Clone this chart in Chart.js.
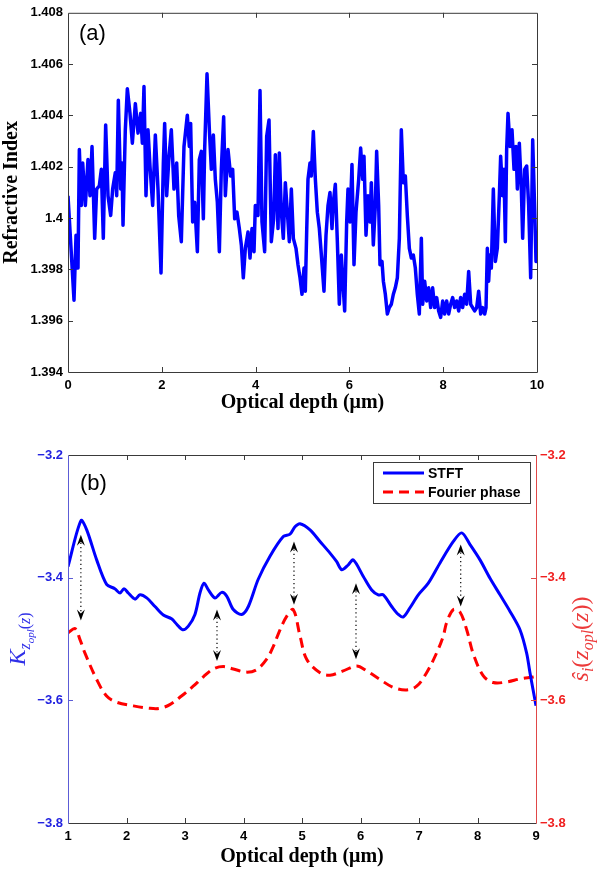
<!DOCTYPE html>
<html>
<head>
<meta charset="utf-8">
<script src="https://cdn.jsdelivr.net/npm/chart.js@4"></script>
<style>
  html, body { margin: 0; padding: 0; background: #fff; }
  canvas { position: absolute; left: 0; }
  #chartA { top: 0; }
  #chartB { top: 435px; }
</style>
</head>
<body>
<canvas id="chartA" width="600" height="435"></canvas>
<canvas id="chartB" width="600" height="435"></canvas>
<script>
// ── DATA: panel (a) ─────────────────────────────
const depthA = [
  0.000, 0.128, 0.171, 0.213, 0.242, 0.284, 0.313, 0.370, 0.426, 0.469, 0.512, 0.569, 0.611, 0.668, 0.711, 0.753,
  0.803, 0.853, 0.910, 0.952, 1.009, 1.038, 1.073, 1.123, 1.151, 1.173, 1.222, 1.265, 1.322, 1.372, 1.436, 1.493,
  1.549, 1.585, 1.620, 1.663, 1.706, 1.748, 1.805, 1.862, 1.919, 1.983, 2.033, 2.061, 2.104, 2.154, 2.203, 2.260,
  2.317, 2.360, 2.416, 2.473, 2.544, 2.587, 2.615, 2.658, 2.701, 2.758, 2.800, 2.843, 2.886, 2.914, 2.964, 3.014,
  3.056, 3.099, 3.141, 3.184, 3.227, 3.269, 3.319, 3.355, 3.412, 3.468, 3.511, 3.554, 3.603, 3.653, 3.696, 3.738,
  3.781, 3.838, 3.881, 3.923, 3.966, 3.994, 4.051, 4.094, 4.136, 4.193, 4.236, 4.286, 4.335, 4.385, 4.421, 4.478,
  4.506, 4.549, 4.591, 4.634, 4.677, 4.719, 4.762, 4.805, 4.861, 4.904, 4.947, 4.989, 5.032, 5.060, 5.089, 5.117,
  5.160, 5.188, 5.231, 5.274, 5.316, 5.359, 5.402, 5.458, 5.501, 5.544, 5.586, 5.629, 5.657, 5.700, 5.743, 5.785,
  5.828, 5.856, 5.899, 5.942, 5.970, 6.013, 6.055, 6.098, 6.141, 6.198, 6.240, 6.283, 6.311, 6.354, 6.397, 6.439,
  6.468, 6.510, 6.553, 6.581, 6.624, 6.652, 6.695, 6.724, 6.766, 6.809, 6.851, 6.894, 6.937, 6.979, 7.022, 7.065,
  7.107, 7.150, 7.193, 7.235, 7.278, 7.321, 7.363, 7.406, 7.448, 7.491, 7.534, 7.562, 7.605, 7.648, 7.690, 7.733,
  7.775, 7.818, 7.861, 7.903, 7.946, 7.989, 8.031, 8.074, 8.117, 8.159, 8.202, 8.244, 8.287, 8.330, 8.372, 8.415,
  8.458, 8.500, 8.543, 8.586, 8.628, 8.671, 8.714, 8.756, 8.799, 8.842, 8.884, 8.913, 8.941, 8.969, 8.998, 9.026,
  9.069, 9.112, 9.154, 9.197, 9.225, 9.268, 9.296, 9.325, 9.353, 9.382, 9.424, 9.467, 9.510, 9.552, 9.581, 9.623,
  9.666, 9.694, 9.737, 9.780, 9.822, 9.865, 9.908, 9.950, 9.979, 10.000
];
const indexA = [
  1.40087, 1.39680, 1.39933, 1.39805, 1.40267, 1.40049, 1.40215, 1.40049, 1.40228, 1.40087, 1.40279, 1.39921, 1.40113, 1.40126, 1.40190, 1.39921,
  1.40363, 1.40087, 1.40010, 1.40113, 1.40177, 1.40087, 1.40459, 1.40113, 1.40215, 1.39972, 1.40344, 1.40504, 1.40408, 1.40292, 1.40446, 1.40331,
  1.40408, 1.40292, 1.40513, 1.40087, 1.40344, 1.40203, 1.40049, 1.40324, 1.40113, 1.39786, 1.40215, 1.40369, 1.40087, 1.40241, 1.40344, 1.40113,
  1.40215, 1.40010, 1.39908, 1.40279, 1.40401, 1.40279, 1.40369, 1.39985, 1.40062, 1.39869, 1.40228, 1.40260, 1.39997, 1.40267, 1.40562, 1.40344,
  1.40190, 1.40324, 1.40151, 1.40062, 1.39869, 1.40190, 1.40395, 1.40087, 1.40267, 1.40164, 1.40190, 1.39997, 1.40023, 1.39959, 1.39895, 1.39767,
  1.39882, 1.39946, 1.39844, 1.39959, 1.39869, 1.40049, 1.40010, 1.40497, 1.39985, 1.39869, 1.40318, 1.40382, 1.39908, 1.39997, 1.40247, 1.39959,
  1.40254, 1.40023, 1.39921, 1.40138, 1.40023, 1.39908, 1.40113, 1.39921, 1.39882, 1.39818, 1.39767, 1.39703, 1.39805, 1.39715, 1.39946, 1.40151,
  1.40215, 1.40164, 1.40337, 1.40151, 1.40023, 1.39959, 1.39856, 1.39715, 1.39933, 1.40049, 1.40100, 1.39959, 1.40062, 1.40132, 1.39908, 1.39664,
  1.39856, 1.39767, 1.39638, 1.39985, 1.40113, 1.39985, 1.40209, 1.39818, 1.40023, 1.40151, 1.40273, 1.40151, 1.40241, 1.39933, 1.40087, 1.39985,
  1.40138, 1.39895, 1.40049, 1.40260, 1.40049, 1.39818, 1.39831, 1.39754, 1.39703, 1.39626, 1.39651, 1.39664, 1.39703, 1.39728, 1.39767, 1.39921,
  1.40344, 1.40138, 1.40164, 1.40010, 1.39882, 1.39844, 1.39856, 1.39805, 1.39703, 1.39626, 1.39921, 1.39664, 1.39754, 1.39677, 1.39728, 1.39651,
  1.39728, 1.39651, 1.39690, 1.39638, 1.39613, 1.39677, 1.39626, 1.39677, 1.39626, 1.39664, 1.39690, 1.39651, 1.39677, 1.39638, 1.39690, 1.39651,
  1.39703, 1.39664, 1.39792, 1.39664, 1.39651, 1.39638, 1.39651, 1.39715, 1.39626, 1.39651, 1.39626, 1.39651, 1.39882, 1.39754, 1.39856, 1.39805,
  1.40113, 1.39831, 1.39882, 1.40087, 1.40241, 1.40087, 1.40190, 1.39908, 1.40267, 1.40408, 1.40279, 1.40344, 1.40190, 1.40279, 1.40113, 1.40292,
  1.40113, 1.39921, 1.40190, 1.40203, 1.40049, 1.39767, 1.40305, 1.40036, 1.39831, 1.39850
];
const xTicksA = [0, 2, 4, 6, 8, 10];
const yTicksA = [1.394, 1.396, 1.398, 1.4, 1.402, 1.404, 1.406, 1.408];
const yLabelsA = ['1.394', '1.396', '1.398', '1.4', '1.402', '1.404', '1.406', '1.408'];

// ── DATA: panel (b) ─────────────────────────────
const depthStft = [
  1.000, 1.222, 1.320, 1.490, 1.660, 1.800, 1.890, 1.957, 2.030, 2.145, 2.230, 2.345, 2.487, 2.630, 2.770, 2.858,
  2.960, 3.057, 3.170, 3.256, 3.325, 3.400, 3.513, 3.627, 3.713, 3.826, 3.969, 4.083, 4.250, 4.453, 4.680, 4.795,
  4.880, 4.966, 5.137, 5.308, 5.479, 5.593, 5.679, 5.792, 5.877, 6.048, 6.191, 6.304, 6.390, 6.533, 6.646, 6.732,
  6.846, 6.988, 7.159, 7.359, 7.587, 7.730, 7.872, 8.043, 8.214, 8.385, 8.556, 8.726, 8.840, 8.897, 9.000
];
const stft = [
  -3.382, -3.307, -3.322, -3.371, -3.411, -3.418, -3.425, -3.418, -3.425, -3.435, -3.428, -3.433, -3.447, -3.461, -3.467, -3.476,
  -3.485, -3.479, -3.460, -3.425, -3.409, -3.420, -3.433, -3.424, -3.430, -3.452, -3.460, -3.447, -3.403, -3.365, -3.333, -3.329,
  -3.317, -3.312, -3.322, -3.341, -3.360, -3.374, -3.387, -3.379, -3.371, -3.398, -3.420, -3.428, -3.428, -3.447, -3.460, -3.464,
  -3.449, -3.428, -3.409, -3.376, -3.341, -3.327, -3.346, -3.371, -3.401, -3.428, -3.455, -3.485, -3.523, -3.555, -3.609
];
const depthFourier = [
  1.000, 1.120, 1.205, 1.290, 1.490, 1.660, 1.830, 2.117, 2.400, 2.570, 2.740, 2.940, 3.140, 3.310, 3.480, 3.655,
  3.826, 4.050, 4.226, 4.396, 4.510, 4.624, 4.738, 4.850, 4.966, 5.080, 5.308, 5.479, 5.706, 5.935, 6.106, 6.333,
  6.560, 6.790, 6.960, 7.130, 7.300, 7.416, 7.470, 7.587, 7.700, 7.815, 7.930, 8.100, 8.270, 8.500, 8.730, 8.950, 9.000
];
const fourier = [
  -3.490, -3.483, -3.501, -3.523, -3.566, -3.593, -3.603, -3.609, -3.613, -3.613, -3.607, -3.593, -3.577, -3.562, -3.549, -3.545,
  -3.549, -3.554, -3.550, -3.533, -3.512, -3.485, -3.463, -3.452, -3.495, -3.533, -3.555, -3.559, -3.552, -3.544, -3.552, -3.566,
  -3.579, -3.583, -3.577, -3.555, -3.523, -3.495, -3.474, -3.452, -3.456, -3.485, -3.525, -3.560, -3.571, -3.570, -3.565, -3.562, -3.561
];
const xTicksB = [1, 2, 3, 4, 5, 6, 7, 8, 9];
const yTicksB = [-3.8, -3.6, -3.4, -3.2];
const yLabelsB = ['\u22123.8', '\u22123.6', '\u22123.4', '\u22123.2'];

// dotted double arrows: depth, upper tip, lower tip
const arrowX   = [1.22, 3.547, 4.863, 5.923, 7.713];
const arrowTop = [-3.330, -3.452, -3.341, -3.409, -3.346];
const arrowBot = [-3.470, -3.536, -3.444, -3.533, -3.447];

// ── STYLE ───────────────────────────────────────
const TICK_FONT  = { family: 'Liberation Sans', size: 13, weight: 'bold' };
const TITLE_FONT = { family: 'Liberation Serif', size: 20, weight: 'bold' };
const FRAME = '#3a3a3a';
const BLUE = '#0000ff';
const RED = '#ff0000';

function toPoints(xs, ys) {
  return xs.map((x, i) => ({ x, y: ys[i] }));
}

function setTicks(values) {
  return scale => { scale.ticks = values.map(v => ({ value: v })); };
}

// inward tick marks, MATLAB style
function tickMarks(ctx, scale, values, side, a, len, color) {
  ctx.strokeStyle = color;
  ctx.lineWidth = 1;
  ctx.beginPath();
  values.forEach(v => {
    const p = Math.round(scale.getPixelForValue(v)) + 0.5;
    if (side === 'bottom') { ctx.moveTo(p, a.bottom); ctx.lineTo(p, a.bottom - len); }
    if (side === 'top')    { ctx.moveTo(p, a.top);    ctx.lineTo(p, a.top + len); }
    if (side === 'left')   { ctx.moveTo(a.left, p);   ctx.lineTo(a.left + len, p); }
    if (side === 'right')  { ctx.moveTo(a.right, p);  ctx.lineTo(a.right - len, p); }
  });
  ctx.stroke();
}

function edge(ctx, x1, y1, x2, y2, color) {
  ctx.strokeStyle = color;
  ctx.lineWidth = 1;
  ctx.beginPath();
  ctx.moveTo(x1, y1);
  ctx.lineTo(x2, y2);
  ctx.stroke();
}

// rotated label with subscript pieces, reading bottom to top
function drawRich(ctx, pieces, x, y, color) {
  ctx.save();
  ctx.translate(x, y);
  ctx.rotate(-Math.PI / 2);
  let total = 0;
  pieces.forEach(p => { ctx.font = p.font; p.w = ctx.measureText(p.t).width; total += p.w; });
  let cx = -total / 2;
  ctx.fillStyle = color;
  ctx.textBaseline = 'alphabetic';
  pieces.forEach(p => { ctx.font = p.font; ctx.fillText(p.t, cx, p.dy); cx += p.w; });
  ctx.restore();
}

function arrowHead(ctx, x, y, s) {
  // s = 1 points up, s = -1 points down
  ctx.beginPath();
  ctx.moveTo(x, y);
  ctx.lineTo(x + 4, y + s * 11);
  ctx.lineTo(x, y + s * 7);
  ctx.lineTo(x - 4, y + s * 11);
  ctx.closePath();
  ctx.fill();
}

// ── PANEL (a) ───────────────────────────────────
const frameA = {
  id: 'frameA',
  afterDatasetsDraw(chart) {
    const { ctx, chartArea: a, scales } = chart;
    ctx.save();
    const l = a.left + 0.5, r = Math.round(a.right) + 0.5, t = a.top + 0.5, b = Math.round(a.bottom) + 0.5;
    edge(ctx, l, t, r, t, FRAME);
    edge(ctx, l, b, r, b, FRAME);
    edge(ctx, l, t, l, b, FRAME);
    edge(ctx, r, t, r, b, FRAME);
    tickMarks(ctx, scales.x, xTicksA.slice(1, -1), 'bottom', a, 5, FRAME);
    tickMarks(ctx, scales.x, xTicksA.slice(1, -1), 'top', a, 5, FRAME);
    tickMarks(ctx, scales.y, yTicksA.slice(1, -1), 'left', a, 5, FRAME);
    tickMarks(ctx, scales.y, yTicksA.slice(1, -1), 'right', a, 5, FRAME);
    ctx.fillStyle = '#000';
    ctx.font = '22px "Liberation Sans"';
    ctx.textBaseline = 'alphabetic';
    ctx.fillText('(a)', 79, 40);
    ctx.restore();
  }
};

new Chart(document.getElementById('chartA'), {
  type: 'line',
  data: {
    datasets: [{
      data: toPoints(depthA, indexA),
      borderColor: BLUE,
      borderWidth: 3.5,
      pointRadius: 0,
      tension: 0,
      borderJoinStyle: 'round',
      fill: false,
    }],
  },
  options: {
    responsive: false,
    animation: false,
    devicePixelRatio: 1,
    layout: { padding: { left: 0, right: 63, top: 8, bottom: 20 } },
    plugins: { legend: { display: false }, tooltip: { enabled: false } },
    scales: {
      x: {
        type: 'linear', min: 0, max: 10,
        afterBuildTicks: setTicks(xTicksA),
        afterFit: s => { s.height = 43; },
        grid: { display: false, drawTicks: false },
        border: { display: false },
        ticks: { color: '#000', font: TICK_FONT, padding: 6, maxRotation: 0, callback: v => String(v) },
        title: { display: true, text: 'Optical depth (\u03bcm)', color: '#000', font: TITLE_FONT, padding: 0 },
      },
      y: {
        type: 'linear', min: 1.394, max: 1.408,
        afterBuildTicks: setTicks(yTicksA),
        afterFit: s => { s.width = 68; },
        grid: { display: false, drawTicks: false },
        border: { display: false },
        ticks: { color: '#000', font: TICK_FONT, padding: 5, callback: (v, i) => yLabelsA[i] },
        title: { display: true, text: 'Refractive Index', color: '#000', font: TITLE_FONT, padding: { top: 0, bottom: 0 } },
      },
    },
  },
  plugins: [frameA],
});

// ── PANEL (b) ───────────────────────────────────
const frameB = {
  id: 'frameB',
  afterDatasetsDraw(chart) {
    const { ctx, chartArea: a, scales } = chart;
    ctx.save();
    const l = a.left + 0.5, r = Math.round(a.right) + 0.5, t = a.top + 0.5, b = Math.round(a.bottom) + 0.5;

    // arrows
    ctx.fillStyle = '#000';
    arrowX.forEach((d, i) => {
      const x = scales.x.getPixelForValue(d);
      const yt = scales.y.getPixelForValue(arrowTop[i]);
      const yb = scales.y.getPixelForValue(arrowBot[i]);
      ctx.strokeStyle = '#000';
      ctx.lineWidth = 1.2;
      ctx.setLineDash([1.2, 3]);
      ctx.beginPath();
      ctx.moveTo(x, yt + 8);
      ctx.lineTo(x, yb - 8);
      ctx.stroke();
      ctx.setLineDash([]);
      arrowHead(ctx, x, yt, 1);
      arrowHead(ctx, x, yb, -1);
    });

    // frame
    edge(ctx, l, t, r, t, FRAME);
    edge(ctx, l, b, r, b, FRAME);
    edge(ctx, l, t, l, b, '#5c5cd6');
    edge(ctx, r, t, r, b, '#e04848');
    tickMarks(ctx, scales.x, xTicksB.slice(1, -1), 'bottom', a, 5, FRAME);
    tickMarks(ctx, scales.x, xTicksB.slice(1, -1), 'top', a, 5, FRAME);
    tickMarks(ctx, scales.y, yTicksB.slice(1, -1), 'left', a, 5, '#5c5cd6');
    tickMarks(ctx, scales.y2, yTicksB.slice(1, -1), 'right', a, 5, '#e04848');

    // panel label
    ctx.fillStyle = '#000';
    ctx.font = '22px "Liberation Sans"';
    ctx.fillText('(b)', 80, 55);

    // legend
    const lx = 373.5, ly = 27.5, lw = 157, lh = 41;
    ctx.fillStyle = '#fff';
    ctx.fillRect(lx, ly, lw, lh);
    ctx.strokeStyle = FRAME;
    ctx.lineWidth = 1;
    ctx.strokeRect(lx, ly, lw, lh);
    const items = chart.data.datasets;
    ctx.font = 'bold 14px "Liberation Sans"';
    ctx.textBaseline = 'middle';
    [38, 57].forEach((yy, i) => {
      const ds = items[i];
      ctx.strokeStyle = ds.borderColor;
      ctx.lineWidth = 3;
      ctx.setLineDash(ds.borderDash || []);
      ctx.beginPath();
      ctx.moveTo(383, yy);
      ctx.lineTo(424, yy);
      ctx.stroke();
      ctx.setLineDash([]);
      ctx.fillStyle = '#000';
      ctx.fillText(ds.label, 428, yy + 1);
    });

    // axis labels with subscripts
    const serifI = n => 'italic ' + n + 'px "Liberation Serif"';
    const serif = n => n + 'px "Liberation Serif"';
    drawRich(ctx, [
      { t: 'K', font: serifI(24), dy: 0 },
      { t: 'z', font: serifI(16), dy: 5 },
      { t: 'opl', font: serifI(11), dy: 9 },
      { t: '(', font: serif(16), dy: 5 },
      { t: 'z', font: serifI(16), dy: 5 },
      { t: ')', font: serif(16), dy: 5 },
    ], 25, (a.top + a.bottom) / 2, '#3030e8');
    drawRich(ctx, [
      { t: '\u015d', font: serifI(24), dy: 0 },
      { t: 'i', font: serifI(16), dy: 5 },
      { t: '(', font: serif(24), dy: 0 },
      { t: 'z', font: serifI(24), dy: 0 },
      { t: 'opl', font: serifI(16), dy: 5 },
      { t: '(', font: serif(24), dy: 0 },
      { t: 'z', font: serifI(24), dy: 0 },
      { t: '))', font: serif(24), dy: 0 },
    ], 588, (a.top + a.bottom) / 2, '#ec3b3b');
    ctx.restore();
  }
};

new Chart(document.getElementById('chartB'), {
  type: 'line',
  data: {
    datasets: [
      {
        label: 'STFT',
        data: toPoints(depthStft, stft),
        yAxisID: 'y',
        borderColor: BLUE,
        borderWidth: 3,
        pointRadius: 0,
        tension: 0.3,
        fill: false,
      },
      {
        label: 'Fourier phase',
        data: toPoints(depthFourier, fourier),
        yAxisID: 'y2',
        borderColor: RED,
        borderWidth: 3,
        borderDash: [10, 6],
        pointRadius: 0,
        tension: 0.35,
        fill: false,
      },
    ],
  },
  options: {
    responsive: false,
    animation: false,
    devicePixelRatio: 1,
    layout: { padding: { left: 0, right: 0, top: 20, bottom: 1 } },
    plugins: { legend: { display: false }, tooltip: { enabled: false } },
    scales: {
      x: {
        type: 'linear', min: 1, max: 9,
        afterBuildTicks: setTicks(xTicksB),
        afterFit: s => { s.height = 46; },
        grid: { display: false, drawTicks: false },
        border: { display: false },
        ticks: { color: '#000', font: TICK_FONT, padding: 6, maxRotation: 0, callback: v => String(v) },
        title: { display: true, text: 'Optical depth (\u03bcm)', color: '#000', font: TITLE_FONT, padding: 0 },
      },
      y: {
        type: 'linear', position: 'left', min: -3.8, max: -3.2,
        afterBuildTicks: setTicks(yTicksB),
        afterFit: s => { s.width = 68; },
        grid: { display: false, drawTicks: false },
        border: { display: false },
        ticks: { color: '#2323e0', font: TICK_FONT, padding: 5, callback: (v, i) => yLabelsB[i] },
      },
      y2: {
        type: 'linear', position: 'right', min: -3.8, max: -3.2,
        afterBuildTicks: setTicks(yTicksB),
        afterFit: s => { s.width = 64; },
        grid: { display: false, drawTicks: false },
        border: { display: false },
        ticks: { color: '#f02020', font: TICK_FONT, padding: 4, callback: (v, i) => yLabelsB[i] },
      },
    },
  },
  plugins: [frameB],
});
</script>
</body>
</html>
